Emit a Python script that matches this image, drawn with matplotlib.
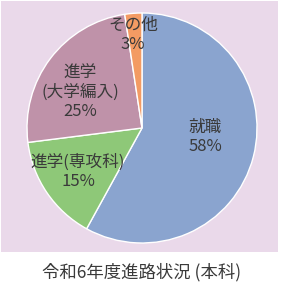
import matplotlib.pyplot as plt

plt.rcParams['font.family'] = ['Noto Sans CJK JP', 'DejaVu Sans']

# data
categories = ['就職', '進学(専攻科)', '進学\n(大学編入)', 'その他']
shares = [58, 15, 24.6, 2.4]
pct_labels = ['58%', '15%', '25%', '3%']
colors = ['#8aa4cf', '#8ec878', '#bf92a9', '#f39b63']
caption = '令和6年度進路状況 (本科)'

W, H = 284, 282
fig = plt.figure(figsize=(W / 100, H / 100), dpi=100)
fig.patch.set_facecolor('white')

# pink panel behind the pie
bg = fig.add_axes([1 / W, 1 - 252 / H, 277 / W, 251 / H])
bg.set_facecolor('#ead9ea')
bg.set_xticks([])
bg.set_yticks([])
for s in bg.spines.values():
    s.set_visible(False)

# pie centre (142, 128), radius ~115 px
r = 115
ax = fig.add_axes([(142 - r) / W, 1 - (128 + r) / H, 2 * r / W, 2 * r / H])
ax.set_facecolor('none')
ax.pie(shares, colors=colors, startangle=90, counterclock=False,
       wedgeprops=dict(edgecolor='white', linewidth=1.0))
ax.set_xlim(-1, 1)
ax.set_ylim(-1, 1)
ax.set_aspect('equal')
ax.axis('off')

# label positions in pixels
label_pos = [(205, 137), (78, 172), (80, 92), (133, 35)]
for cat, pct, (x, y) in zip(categories, pct_labels, label_pos):
    fig.text(x / W, 1 - y / H, cat + '\n' + pct, ha='center', va='center',
             fontsize=12, color='#3a3a3a', linespacing=1.15)

fig.text(142 / W, 1 - 272 / H, caption, ha='center', va='center',
         fontsize=12.5, color='#3a3a3a')

fig.savefig('out.png', dpi=100)
